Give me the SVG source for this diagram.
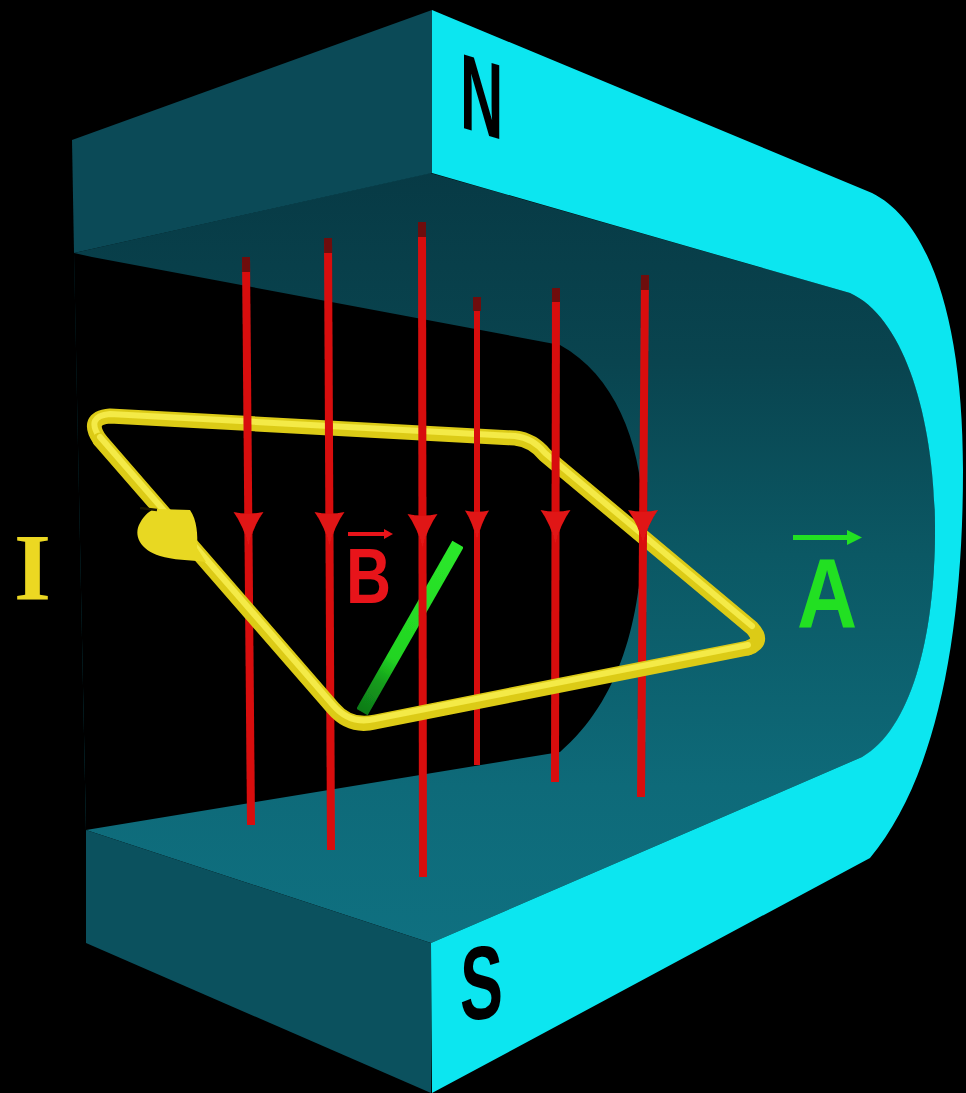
<svg xmlns="http://www.w3.org/2000/svg" xmlns:xlink="http://www.w3.org/1999/xlink" width="966" height="1093" viewBox="0 0 966 1093">
  <defs>
    <linearGradient id="innerWall" gradientUnits="userSpaceOnUse" x1="0" y1="170" x2="0" y2="940">
      <stop offset="0" stop-color="#073a45"/>
      <stop offset="0.25" stop-color="#09444f"/>
      <stop offset="0.5" stop-color="#0b5864"/>
      <stop offset="0.8" stop-color="#0e6a79"/>
      <stop offset="1" stop-color="#0f7080"/>
    </linearGradient>
    <linearGradient id="vecA" gradientUnits="userSpaceOnUse" x1="362" y1="712" x2="458" y2="544">
      <stop offset="0" stop-color="#0f7a18"/>
      <stop offset="0.18" stop-color="#149c1c"/>
      <stop offset="0.32" stop-color="#22d422"/>
      <stop offset="1" stop-color="#2be82b"/>
    </linearGradient>
    <path id="arrowHead" d="M -15,-34 Q 0,-31 15,-34 Q 5,-20 0,0 Q -5,-20 -15,-34 Z"/>
    <filter id="soft" x="-5%" y="-5%" width="110%" height="110%">
      <feGaussianBlur stdDeviation="0.7"/>
    </filter>
    <style>
      .field { stroke: #d81010; stroke-width: 8; fill: none; }
      .field-thin { stroke: #d81010; stroke-width: 6; fill: none; }
      .field-top { stroke: #6e0808; stroke-width: 8; fill: none; }
      .head { fill: #e01212; }
      .wire { fill: none; stroke: #dccb18; stroke-width: 15; stroke-linecap: round; stroke-linejoin: round; }
      .wire-hi { fill: none; stroke: #f4ea46; stroke-width: 6; stroke-linecap: round; stroke-linejoin: round; }
      .pole { font-family: "Liberation Sans", Arial, sans-serif; font-weight: bold; fill: #000; }
      .sym { font-family: "Liberation Sans", Arial, sans-serif; font-weight: bold; }
    </style>
  </defs>

  <!-- background -->
  <rect x="0" y="0" width="966" height="1093" fill="#000"/>

  <!-- horseshoe magnet -->
  <g id="magnet">
    <!-- inside of the U: underside of upper arm, curved back wall, top of lower arm -->
    <path d="M 74,253 L 430,173 L 850,293 C 905,318 935,420 935,530 C 935,640 910,730 862,757 L 431,943 L 86,830 Z" fill="url(#innerWall)"/>
    <!-- open gap between the pole pieces -->
    <path d="M 74,253 L 92,257 L 560,345 C 620,378 645,455 643,530 C 641,620 620,700 560,752 L 86,830 Z" fill="#000"/>
    <!-- end face of the upper arm -->
    <path d="M 72,140 L 432,10 L 432,173 L 74,253 Z" fill="#0b4a57"/>
    <!-- end face of the lower arm -->
    <path d="M 86,830 L 431,943 L 431,1093 L 86,943 Z" fill="#0b515e"/>
    <!-- outer face of the magnet -->
    <path d="M 432,10 L 872,193 C 930,222 963,320 963,470 C 963,640 935,780 870,858 L 432,1093 L 431,943 L 862,757 C 910,730 935,640 935,530 C 935,420 905,318 850,293 L 432,173 Z" fill="#0ce6f0"/>
  </g>

  <!-- current loop: far edges, behind the field -->
  <g id="loop-back" filter="url(#soft)">
    <path class="wire" d="M 100,440 Q 85,418 110,416 L 515,438 Q 533,440 545,455 L 752,628 Q 765,642 748,648"/>
    <path class="wire-hi" transform="translate(0,-2)" d="M 100,440 Q 85,418 110,416 L 515,438 Q 533,440 545,455 L 752,628"/>
  </g>

  <!-- area vector A -->
  <g id="vector-A" filter="url(#soft)">
    <line x1="362" y1="712" x2="458" y2="544" stroke="url(#vecA)" stroke-width="13" stroke-linecap="butt"/>
  </g>

  <!-- magnetic field lines B -->
  <g id="field-lines" filter="url(#soft)">
    <line class="field" x1="246" y1="257" x2="251" y2="825"/>
    <line class="field" x1="328" y1="238" x2="331" y2="850"/>
    <line class="field" x1="422" y1="222" x2="423" y2="877"/>
    <line class="field-thin" x1="477" y1="297" x2="477" y2="765"/>
    <line class="field" x1="556" y1="288" x2="555" y2="782"/>
    <line class="field" x1="645" y1="275" x2="641" y2="797"/>

    <line class="field-top" x1="246" y1="257" x2="246.1" y2="272"/>
    <line class="field-top" x1="328" y1="238" x2="328.1" y2="253"/>
    <line class="field-top" x1="422" y1="222" x2="422" y2="237"/>
    <line class="field-top" x1="477" y1="297" x2="477" y2="311" stroke-width="6"/>
    <line class="field-top" x1="556" y1="288" x2="556" y2="302"/>
    <line class="field-top" x1="645" y1="275" x2="644.9" y2="290"/>

    <use class="head" xlink:href="#arrowHead" x="248.5" y="546"/>
    <use class="head" xlink:href="#arrowHead" x="329.5" y="546"/>
    <use class="head" xlink:href="#arrowHead" x="422.5" y="548"/>
    <use class="head" xlink:href="#arrowHead" transform="translate(477,541) scale(0.8,0.9)"/>
    <use class="head" xlink:href="#arrowHead" x="555.5" y="544"/>
    <use class="head" xlink:href="#arrowHead" x="643" y="544"/>
  </g>

  <!-- current loop: near edges, in front of the field -->
  <g id="loop-front" filter="url(#soft)">
    <path class="wire" d="M 748,648 L 375,722 Q 350,728 333,708 L 100,440" stroke-width="17"/>
    <path class="wire-hi" transform="translate(0,-3)" d="M 748,648 L 375,722 Q 350,728 333,708 L 100,440"/>
    <!-- current direction cone -->
    <path d="M 157,509 L 190,510 C 197,520 198,535 197,548 L 206,562 C 190,560 172,560 160,556 C 140,550 133,535 140,523 C 145,514 150,510 157,509 Z" fill="#e8d820"/>
    <path d="M 140,508 L 157,510" fill="none" stroke="#1a1600" stroke-width="2.5"/>
  </g>

  <!-- labels -->
  <g id="labels">
    <text class="pole" font-size="107" transform="translate(460,127) skewY(17) scale(0.56,1)">N</text>
    <text class="pole" font-size="104" transform="translate(460,1021) skewY(-6) scale(0.62,1)">S</text>
    <text font-family="'Liberation Serif', 'Times New Roman', serif" font-weight="bold" font-size="95" fill="#ecd822" x="14" y="600">I</text>
    <g id="label-B" fill="#e8141a">
      <text class="sym" font-size="78" transform="translate(346,603) scale(0.8,1)">B</text>
      <rect x="348" y="532" width="38" height="4"/>
      <path d="M 384,529 L 393,534 L 384,539 Z"/>
    </g>
    <g id="label-A" fill="#22e022">
      <text class="sym" font-size="98" transform="translate(797,627) scale(0.85,1)">A</text>
      <rect x="793" y="535" width="56" height="5"/>
      <path d="M 847,530 L 862,537.5 L 847,545 Z"/>
    </g>
  </g>
</svg>
